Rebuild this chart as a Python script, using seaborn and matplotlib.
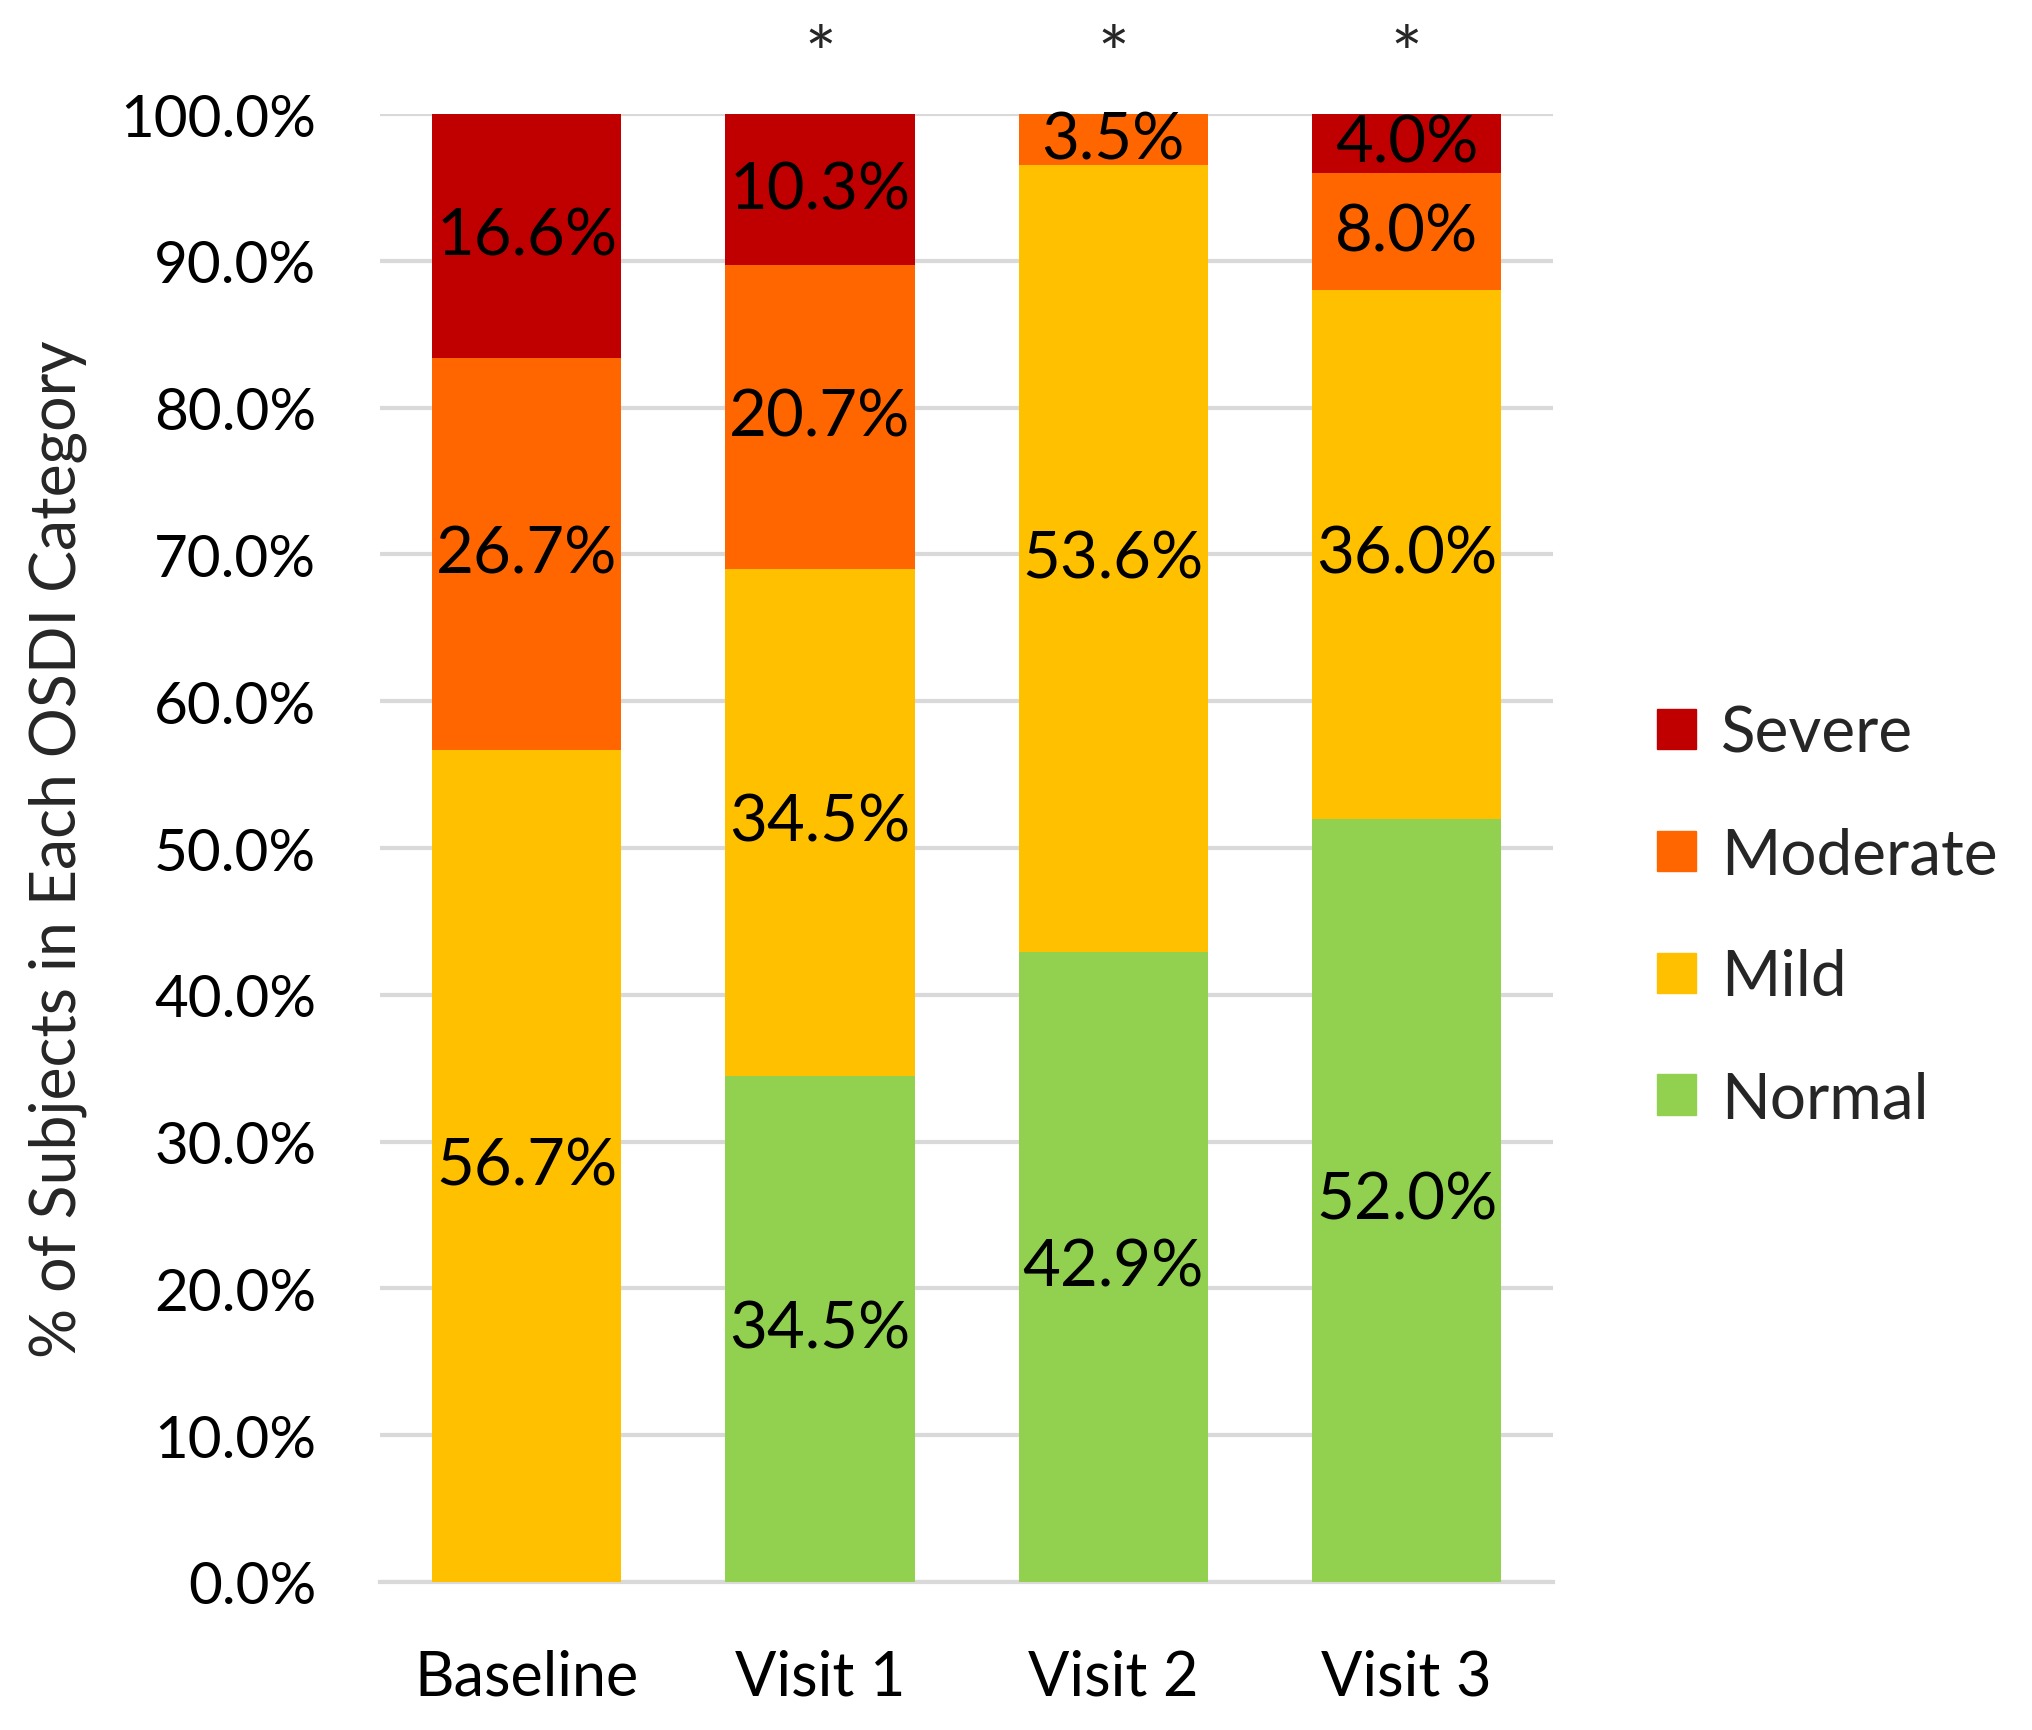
import numpy as np
import pandas as pd
import seaborn as sns
import matplotlib.pyplot as plt
from matplotlib.patches import Patch

# Data
visits = ["Baseline", "Visit 1", "Visit 2", "Visit 3"]
normal = [0.0, 34.5, 42.9, 52.0]
mild = [56.7, 34.5, 53.6, 36.0]
moderate = [26.7, 20.7, 3.5, 8.0]
severe = [16.6, 10.3, 0.0, 4.0]
signif = ["", "*", "*", "*"]

categories = ["Normal", "Mild", "Moderate", "Severe"]
colors = {"Normal": "#92D050", "Mild": "#FFC000",
          "Moderate": "#FF6600", "Severe": "#C00000"}

df = pd.DataFrame({"Visit": visits, "Normal": normal, "Mild": mild,
                   "Moderate": moderate, "Severe": severe})

# Settings
sns.set_theme(style="white")
plt.rcParams['font.family'] = ['Lato', 'DejaVu Sans']

fig = plt.figure(figsize=(20.33, 17.31), dpi=100)
ax = fig.add_axes([0.187, 0.0855, 0.577, 0.848])

bottom = np.zeros(len(visits))
for cat in categories:
    sns.barplot(x="Visit", y=cat, data=df, color=colors[cat], bottom=bottom,
                width=0.645, saturation=1, ax=ax, zorder=3,
                linewidth=0, edgecolor="none")
    vals = df[cat].values
    for i, v in enumerate(vals):
        if v > 0:
            ax.text(i, bottom[i] + v / 2, f"{v:.1f}%", ha="center",
                    va="center", fontsize=47, color="black", zorder=4)
    bottom = bottom + vals

for i, s in enumerate(signif):
    if s:
        ax.text(i, 103.8, s, ha="center", va="center", fontsize=54,
                clip_on=False)

ax.set_xlim(-0.5, 3.5)
ax.set_ylim(0, 100)
ax.set_yticks(np.arange(0, 101, 10))
ax.set_yticklabels([f"{t:.1f}%" for t in np.arange(0, 101, 10)])
ax.yaxis.grid(True, color="#D9D9D9", linewidth=3, zorder=0)
ax.set_axisbelow(True)
for sp in ["top", "right", "left"]:
    ax.spines[sp].set_visible(False)
ax.spines["bottom"].set_color("#D9D9D9")
ax.spines["bottom"].set_linewidth(3)
ax.tick_params(axis="both", length=0, labelsize=42, colors="black")
ax.tick_params(axis="x", pad=48, labelsize=44)
ax.tick_params(axis="y", pad=46)
ax.set_xlabel("")
ax.set_ylabel("% of Subjects in Each OSDI Category", fontsize=45,
              labelpad=24)

handles = [Patch(color=colors[c], label=c) for c in categories[::-1]]
fig.legend(handles=handles, loc="center left",
           bbox_to_anchor=(0.787, 0.47), frameon=False, fontsize=46,
           handlelength=0.6, handleheight=0.6, handletextpad=0.4,
           labelspacing=1.0)

plt.savefig("out.png", dpi=100)
